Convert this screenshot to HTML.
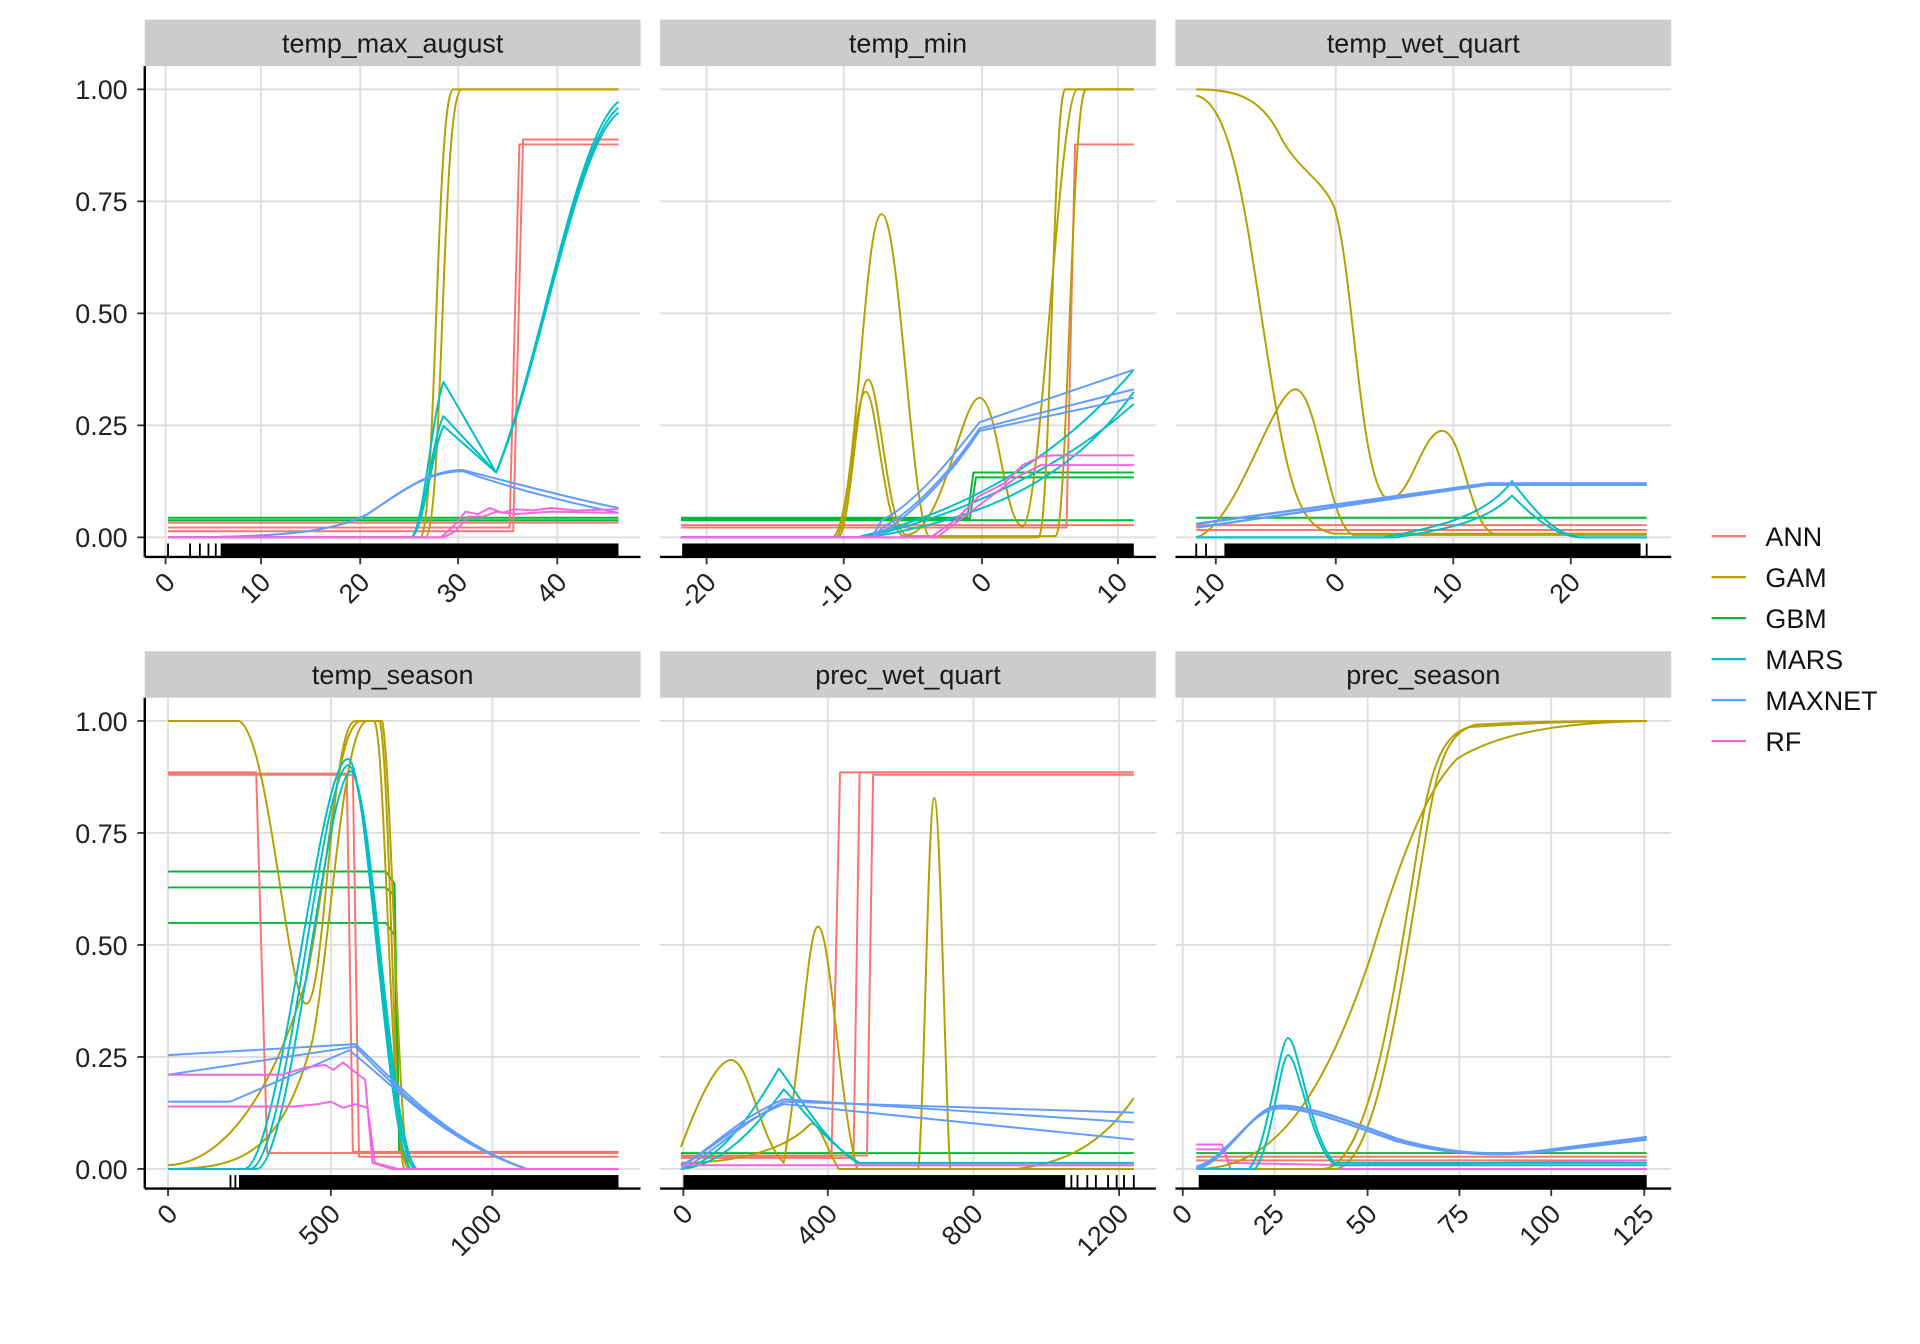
<!DOCTYPE html>
<html><head><meta charset="utf-8">
<style>
html,body{margin:0;padding:0;background:#fff;}
svg{display:block;}
text{font-family:"Liberation Sans",Arial,sans-serif;}
</style></head>
<body>
<svg id="s" width="1920" height="1344" viewBox="0 0 1568 1098" xmlns="http://www.w3.org/2000/svg">
<rect width="1568" height="1098" fill="#fff"/>
<g id="bg"></g>
<g fill="none" stroke-width="1.6" stroke-linejoin="round">
<!-- Panel 1 -->
<g stroke="#00BA38"><path d="M137 423H505"/><path d="M137 425H505"/></g>
<g stroke="#F8766D"><path d="M137 431H416L424 118H505"/><path d="M137 434H419L427 114H505"/><path d="M137 427H505"/></g>
<g stroke="#B79F00"><path d="M137 439H343C356 439 356 73 370 73H505"/><path d="M137 439H347C362 439 360 73 377 73H505"/></g>
<g stroke="#00BFC4"><path d="M137 439H335C345 439 352 340 362 312L405 386C440 300 470 110 505 83"/><path d="M137 439H335C345 439 352 360 362 340L405 386C440 300 470 115 505 88"/><path d="M137 439H335C345 439 352 370 362 348L405 386C440 305 470 118 505 92"/></g>
<g stroke="#619CFF"><path d="M137 439C220 439 270 436 300 420C330 400 350 384 378 384C420 395 470 408 505 415"/><path d="M137 439C220 439 270 436 300 420C330 400 350 385 378 385C420 400 470 412 505 419"/></g>
<g stroke="#F564E3"><path d="M137 439H360L370 430L380 418L390 420L400 415L410 419L420 416L435 417L450 415L470 417L505 416"/><path d="M137 439H362L372 434L382 422L395 422L405 418L420 420L450 418L505 419"/></g>
<!-- Panel 2 -->
<g stroke="#00BA38"><path d="M556 423H790L795 386H926"/><path d="M556 424H792L797 390H926"/><path d="M556 425H926"/></g>
<g stroke="#F8766D"><path d="M556 429H926"/><path d="M556 431H871L878 118H926"/></g>
<g stroke="#B79F00"><path d="M556 439H680C700 430 705 175 720 175C735 175 745 439 760 439H848C858 439 860 73 870 73H926"/><path d="M556 439H685C695 430 700 310 709 310C718 310 725 435 740 437C770 437 785 325 800 325C815 325 820 428 835 430C850 430 865 73 880 73H926"/><path d="M556 439H683C693 430 698 320 707 320C716 320 722 436 738 438H862C872 438 875 73 887 73H926"/></g>
<g stroke="#00BFC4"><path d="M556 439H700C780 420 860 380 926 302"/><path d="M556 439H705C790 420 870 380 926 330"/><path d="M556 439H710C790 425 870 400 926 320"/></g>
<g stroke="#619CFF"><path d="M556 439H712L720 425C750 410 780 370 800 345L926 302"/><path d="M556 439H712L722 430C755 412 785 372 800 350L926 318"/><path d="M556 439H714C755 415 785 375 800 352L926 325"/></g>
<g stroke="#F564E3"><path d="M556 439H760L780 425L800 405L820 395L835 380L850 373L860 372H926"/><path d="M556 439H765L790 420L810 405L830 390L850 380H926"/></g>
<!-- Panel 3 -->
<g stroke="#00BA38"><path d="M977 423H1345"/></g>
<g stroke="#F8766D"><path d="M977 429H1345"/><path d="M977 433H1345"/></g>
<g stroke="#B79F00"><path d="M977 73C1010 73 1030 80 1045 110C1060 140 1080 145 1090 170C1105 220 1110 380 1130 405C1150 420 1160 352 1178 352C1195 352 1200 430 1220 436H1345"/><path d="M977 78C1010 85 1020 200 1040 320C1055 410 1065 432 1090 436H1345"/><path d="M977 439C1010 430 1040 318 1058 318C1076 318 1085 430 1105 437H1345"/></g>
<g stroke="#00BFC4"><path d="M977 439H1130C1180 430 1215 420 1235 393C1255 420 1270 436 1290 439H1345"/><path d="M977 439H1140C1185 432 1215 425 1235 405C1255 425 1270 437 1290 439H1345"/></g>
<g stroke="#619CFF" stroke-width="2"><path d="M977 428L1215 395H1345"/><path d="M977 431L1215 396H1345"/></g>
<!-- Panel 4 -->
<g stroke="#00BA38"><path d="M137 712H315L322 722L326 942H505"/><path d="M137 725H315L322 732L326 942H505"/><path d="M137 754H315L322 764L326 942H505"/></g>
<g stroke="#F8766D"><path d="M137 631H209L218 942H505"/><path d="M137 633H288L293 945H505"/><path d="M137 632H283L288 941H505"/></g>
<g stroke="#B79F00"><path d="M137 589H195C220 600 235 820 250 820C265 820 270 589 290 589H305C315 589 318 940 333 955H505"/><path d="M137 952C180 950 220 900 250 800C270 700 275 589 295 589H310C318 620 322 940 330 955H505"/><path d="M137 955C200 955 230 940 255 850C270 770 280 589 300 589H312C320 630 325 950 335 955H505"/></g>
<g stroke="#00BFC4"><path d="M137 955H200C230 945 260 620 284 620C300 620 315 930 335 955H505"/><path d="M137 955H205C235 945 262 630 284 625C302 625 316 935 338 955H505"/><path d="M137 955H210C238 948 265 640 286 630C304 635 318 938 340 955H505"/></g>
<g stroke="#619CFF"><path d="M137 862L290 853C320 880 360 930 430 955H505"/><path d="M137 878L290 855C320 885 360 930 430 955H505"/><path d="M137 900H188L285 858C320 885 360 932 430 955H505"/></g>
<g stroke="#F564E3"><path d="M137 878H230L250 872L265 870L272 874L280 868L290 876L298 882L304 950L320 955H505"/><path d="M137 904H240L260 902L270 900L280 905L290 902L300 905L306 950L325 955H505"/></g>
<!-- Panel 5 -->
<g stroke="#00BA38"><path d="M556 942H926"/></g>
<g stroke="#F8766D"><path d="M556 945H679L686 631H926"/><path d="M556 946H697L702 631H926"/><path d="M556 944H708L713 633H926"/></g>
<g stroke="#B79F00"><path d="M556 937C570 900 585 866 597 866C612 866 620 930 640 950C655 860 660 757 668 757C678 757 685 900 700 955H750C755 900 758 652 763 652C768 652 772 900 776 955H830C870 950 900 935 926 897"/><path d="M556 950C600 950 640 940 660 920C668 910 675 940 685 955H926"/></g>
<g stroke="#00BFC4"><path d="M556 955C590 950 620 900 636 873C650 890 670 930 700 950H926"/><path d="M556 955C595 952 625 910 640 890C655 905 675 935 705 952H926"/></g>
<g stroke="#619CFF"><path d="M556 955C580 945 600 920 640 900L926 909"/><path d="M556 952C580 940 600 915 640 898L926 917"/><path d="M556 953C580 940 600 918 640 902L926 931"/></g>
<g stroke="#F564E3"><path d="M556 952H926"/></g>
<!-- Panel 6 -->
<g stroke="#00BA38"><path d="M977 942H1345"/></g>
<g stroke="#F8766D"><path d="M977 945H1345"/><path d="M977 948H1345"/></g>
<g stroke="#F564E3"><path d="M977 939H1000L1005 955H1345"/><path d="M977 935H998L1003 950L1100 952L1345 948"/></g>
<g stroke="#B79F00"><path d="M977 955C1040 955 1080 900 1120 780C1150 680 1170 640 1190 620C1230 595 1290 590 1345 589"/><path d="M977 955H1080C1120 955 1140 800 1160 680C1170 620 1180 600 1200 594C1260 590 1300 589 1345 589"/><path d="M977 955H1090C1125 955 1145 800 1165 680C1175 615 1185 598 1205 592C1260 589 1300 589 1345 589"/></g>
<g stroke="#00BFC4"><path d="M977 955H1020C1035 940 1045 848 1052 848C1060 848 1070 930 1090 950H1345"/><path d="M977 955H1025C1038 940 1046 862 1052 862C1060 862 1070 935 1090 952H1345"/></g>
<g stroke="#619CFF" stroke-width="2"><path d="M977 955C1000 950 1020 910 1040 904C1060 900 1100 915 1140 930C1180 942 1220 945 1260 940L1345 929"/><path d="M977 953C1000 948 1020 910 1040 906C1060 902 1100 918 1140 932C1180 943 1220 945 1260 941L1345 931"/></g>
</g>
<g id="fg"></g>
</svg>
<script>
var NS="http://www.w3.org/2000/svg";
function el(p,t,a,txt){var e=document.createElementNS(NS,t);for(var k in a)e.setAttribute(k,a[k]);if(txt!=null)e.textContent=txt;p.appendChild(e);return e;}
var bg=document.getElementById('bg'),fg=document.getElementById('fg');
var cols=[[118,523],[539,944],[960,1365]];
var rows=[{st:16,top:54,bot:455,y1:73,y0:439},{st:532,top:570,bot:971,y1:589,y0:955}];
var panels=[
 {r:0,c:0,t:"temp_max_august",ticks:[[135,"0"],[213,"10"],[294,"20"],[374,"30"],[455,"40"]],rug:[137,180,505],sp:[137,155,163,170,176]},
 {r:0,c:1,t:"temp_min",ticks:[[577,"-20"],[689,"-10"],[802,"0"],[913,"10"]],rug:[555,557,926],sp:[]},
 {r:0,c:2,t:"temp_wet_quart",ticks:[[993,"-10"],[1091,"0"],[1187,"10"],[1283,"20"]],rug:[977,1000,1340],sp:[977,985,1345]},
 {r:1,c:0,t:"temp_season",ticks:[[137,"0"],[270,"500"],[402,"1000"]],rug:[137,195,505],sp:[188,192]},
 {r:1,c:1,t:"prec_wet_quart",ticks:[[558,"0"],[676,"400"],[795,"800"],[914,"1200"]],rug:[556,558,870],sp:[875,880,888,895,905,912,918,926]},
 {r:1,c:2,t:"prec_season",ticks:[[966,"0"],[1041,"25"],[1117,"50"],[1192,"75"],[1267,"100"],[1343,"125"]],rug:[977,979,1345],sp:[]}
];
panels.forEach(function(p){
 var R=rows[p.r],x0=cols[p.c][0],x1=cols[p.c][1];
 el(bg,'rect',{x:x0,y:R.st,width:x1-x0,height:R.top-R.st,fill:'#cccccc'});
 el(bg,'text',{x:(x0+x1)/2,y:R.st+27,'text-anchor':'middle','font-size':22,fill:'#1a1a1a'},p.t);
 for(var i=0;i<5;i++){var y=R.y0-(R.y0-R.y1)*i/4;el(bg,'line',{x1:x0,x2:x1,y1:y,y2:y,stroke:'#dedede','stroke-width':1.5});
   if(p.c==0){el(fg,'line',{x1:x0-6,x2:x0,y1:y,y2:y,stroke:'#333','stroke-width':1.5});
   el(fg,'text',{x:x0-14,y:y+8,'text-anchor':'end','font-size':22,fill:'#222'},["0.00","0.25","0.50","0.75","1.00"][i]);}}
 p.ticks.forEach(function(t){el(bg,'line',{x1:t[0],x2:t[0],y1:R.top,y2:R.bot,stroke:'#dedede','stroke-width':1.5});
   el(fg,'line',{x1:t[0],x2:t[0],y1:R.bot,y2:R.bot+6,stroke:'#333','stroke-width':1.5});
   var tx=t[0]+9,ty=R.bot+22;
   el(fg,'text',{x:tx,y:ty,'text-anchor':'end','font-size':22,fill:'#222',transform:'rotate(-45 '+tx+' '+ty+')'},t[1]);});
 el(fg,'rect',{x:p.rug[1],y:R.bot-11,width:p.rug[2]-p.rug[1],height:11,fill:'#000'});
 p.sp.forEach(function(x){el(fg,'line',{x1:x,x2:x,y1:R.bot-11,y2:R.bot,stroke:'#000','stroke-width':1.5});});
 el(fg,'line',{x1:x0,x2:x1,y1:R.bot,y2:R.bot,stroke:'#000','stroke-width':2});
 if(p.c==0)el(fg,'line',{x1:x0,x2:x0,y1:R.top,y2:R.bot,stroke:'#000','stroke-width':2});
});
var leg=[["ANN","#F8766D"],["GAM","#B79F00"],["GBM","#00BA38"],["MARS","#00BFC4"],["MAXNET","#619CFF"],["RF","#F564E3"]];
leg.forEach(function(l,i){var y=438+i*33.5;el(fg,'line',{x1:1398,x2:1426,y1:y,y2:y,stroke:l[1],'stroke-width':1.8});
 el(fg,'text',{x:1442,y:y+8,'font-size':22,fill:'#111'},l[0]);});
</script>
</body></html>
